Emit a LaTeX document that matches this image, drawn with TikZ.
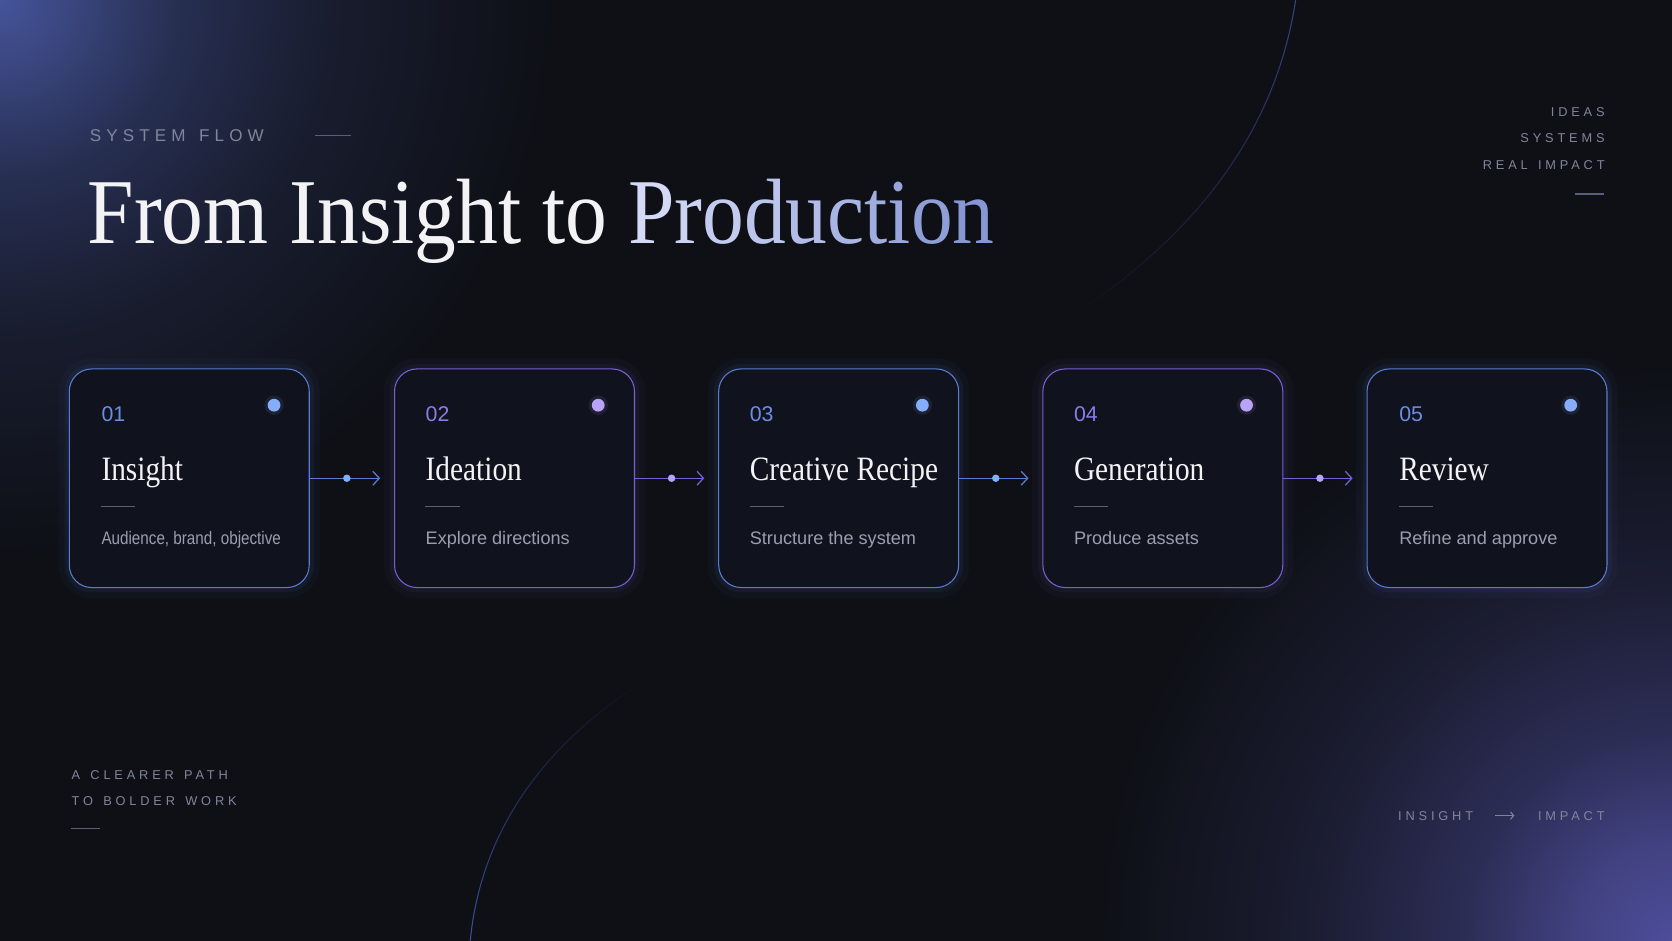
\documentclass[tikz,border=0pt]{standalone}
\usepackage{fontspec}
\usetikzlibrary{positioning,arrows.meta,fadings}

\newfontfamily\headfont[FakeStretch=0.9]{Liberation Serif}
\newfontfamily\cardfont[FakeStretch=0.86]{Liberation Serif}
\newfontfamily\labelfont{Liberation Sans}
\newfontfamily\condfont[FakeStretch=0.84]{Liberation Sans}
\newfontfamily\capsfont[LetterSpace=30]{Liberation Sans}

\definecolor{bgcol}{HTML}{0E1016}
\definecolor{cardfill}{HTML}{10121D}
\definecolor{glowtl}{HTML}{45549A}
\definecolor{glowbr}{HTML}{4D4D9A}
\definecolor{arcblue}{HTML}{4458B0}
\definecolor{blueline}{HTML}{5A7BD0}
\definecolor{purpleline}{HTML}{7462D2}
\definecolor{bluenum}{HTML}{6A8EE6}
\definecolor{purplenum}{HTML}{8C7CEA}
\definecolor{bluedot}{HTML}{86ADFA}
\definecolor{purpledot}{HTML}{B9A3F7}
\definecolor{titlewhite}{HTML}{F3F3F6}
\definecolor{prodA}{HTML}{D4DAF5}
\definecolor{prodB}{HTML}{8797D4}
\definecolor{descgray}{HTML}{9A9EB0}
\definecolor{capsgray}{HTML}{80859C}
\definecolor{rulegray}{HTML}{5A5F78}

\pgfdeclareradialshading{glowtopleft}{\pgfpoint{0bp}{0bp}}{color(0bp)=(glowtl); color(3bp)=(glowtl!80!bgcol);
	color(8bp)=(glowtl!45!bgcol); color(15bp)=(glowtl!18!bgcol); color(25bp)=(bgcol); color(50bp)=(bgcol)}
\pgfdeclareradialshading{glowbotright}{\pgfpoint{0bp}{0bp}}{color(0bp)=(glowbr); color(4bp)=(glowbr!82!bgcol);
	color(9bp)=(glowbr!48!bgcol); color(16bp)=(glowbr!20!bgcol); color(25bp)=(bgcol); color(50bp)=(bgcol)}

\tikzfading[name=arcfadedown, top color=transparent!25, bottom color=transparent!100]
\tikzfading[name=arcfadeup, top color=transparent!100, bottom color=transparent!10]

\newcommand\prodgrad{{\color{prodA}P}{\color{prodA!89!prodB}r}{\color{prodA!78!prodB}o}%
{\color{prodA!67!prodB}d}{\color{prodA!56!prodB}u}{\color{prodA!44!prodB}c}%
{\color{prodA!33!prodB}t}{\color{prodA!22!prodB}i}{\color{prodA!11!prodB}o}{\color{prodB}n}}
\newcommand\wsp{\hspace{0.8em}}

\tikzset{
	card/.style={rectangle, rounded corners=21pt, minimum width=225pt, minimum height=205pt,
		inner sep=0pt, fill=cardfill, draw=#1, line width=1pt,
		preaction={draw=#1, line width=20pt, draw opacity=0.04},
		preaction={draw=#1, line width=9pt, draw opacity=0.07}},
	stepnum/.style={anchor=base west, inner sep=0pt, font=\labelfont\fontsize{20}{20}\selectfont, text=#1},
	steptitle/.style={anchor=base west, inner sep=0pt, font=\cardfont\fontsize{32}{32}\selectfont, text=titlewhite},
	stepdesc/.style={anchor=base west, inner sep=0pt, font=\labelfont\fontsize{17}{17}\selectfont, text=descgray},
	stepdot/.style={circle, inner sep=0pt, minimum size=12pt, fill=#1,
		preaction={draw=#1, line width=6pt, draw opacity=0.1}},
	linkdot/.style={circle, inner sep=0pt, minimum size=7pt, fill=#1},
	flowline/.style={draw=#1, line width=1.2pt, -{Straight Barb[length=6pt,width=13pt]}, shorten >=13pt},
	capsnote/.style={inner sep=0pt, font=\capsfont\fontsize{12}{12}\selectfont, text=capsgray},
	shortrule/.style={draw=rulegray, line width=1.3pt},
	arcline/.style={draw=arcblue, line width=1pt}
}

\begin{document}
\begin{tikzpicture}[x=1pt,y=-1pt]
	%background
	\useasboundingbox (0,0) rectangle (1568,882);
	\clip (0,0) rectangle (1568,882);
	\fill[bgcol] (0,0) rectangle (1568,882);
	\shade[shading=glowtopleft] (0,0) circle (520pt);
	\shade[shading=glowbotright] (1568,882) circle (540pt);

	%arcs
	\draw[arcline, path fading=arcfadedown] (1215,0) .. controls (1195,130) and (1115,225) .. (1000,300);
	\draw[arcline, path fading=arcfadeup] (441,882) .. controls (452,770) and (520,690) .. (610,635);

	%header
	\node[capsnote, anchor=base west, font=\capsfont\fontsize{16}{16}\selectfont] (flow) at (84,133) {SYSTEM\wsp FLOW};
	\draw[shortrule] (295,127) -- (329,127);
	\node[anchor=base west, inner sep=0pt, font=\headfont\fontsize{87}{87}\selectfont, text=titlewhite] (title) at (82,228) {From Insight to \prodgrad};

	%side notes
	\node[capsnote, anchor=base east] (ideas) at (1505,109) {IDEAS};
	\node[capsnote, anchor=base east] (systems) at (1505,134) {SYSTEMS};
	\node[capsnote, anchor=base east] (real) at (1505,159) {REAL\wsp IMPACT};
	\draw[shortrule] (1477,182) -- (1504,182);

	\node[capsnote, anchor=base west] (path) at (67,731) {A\wsp CLEARER\wsp PATH};
	\node[capsnote, anchor=base west] (bolder) at (67,755) {TO\wsp BOLDER\wsp WORK};
	\draw[shortrule] (67,777) -- (94,777);

	\node[capsnote, anchor=base west] (ins) at (1311,769) {INSIGHT};
	\node[capsnote, anchor=base east] (imp) at (1505,769) {IMPACT};
	\draw[draw=capsgray, line width=1pt, -{Straight Barb[length=3pt,width=7pt]}, shorten <=20pt, shorten >=22pt] (ins) -- (imp);

	%cards
	\node[card=blueline] (c1) at (177.5,448.5) {};
	\node[card=purpleline] (c2) at (482.5,448.5) {};
	\node[card=blueline] (c3) at (786.5,448.5) {};
	\node[card=purpleline] (c4) at (1090.5,448.5) {};
	\node[card=blueline] (c5) at (1394.5,448.5) {};

	%card 1
	\node[stepnum=bluenum] (n1) at (95,395) {01};
	\node[stepdot=bluedot] (p1) at (257,380) {};
	\node[steptitle] (t1) at (95,451) {Insight};
	\draw[shortrule] (95,475) -- (127,475);
	\node[stepdesc, font=\condfont\fontsize{17}{17}\selectfont] (s1) at (95,511) {Audience, brand, objective};

	%card 2
	\node[stepnum=purplenum] (n2) at (399,395) {02};
	\node[stepdot=purpledot] (p2) at (561,380) {};
	\node[steptitle] (t2) at (399,451) {Ideation};
	\draw[shortrule] (399,475) -- (431,475);
	\node[stepdesc] (s2) at (399,511) {Explore directions};

	%card 3
	\node[stepnum=bluenum] (n3) at (703,395) {03};
	\node[stepdot=bluedot] (p3) at (865,380) {};
	\node[steptitle] (t3) at (703,451) {Creative Recipe};
	\draw[shortrule] (703,475) -- (735,475);
	\node[stepdesc] (s3) at (703,511) {Structure the system};

	%card 4
	\node[stepnum=purplenum] (n4) at (1007,395) {04};
	\node[stepdot=purpledot] (p4) at (1169,380) {};
	\node[steptitle] (t4) at (1007,451) {Generation};
	\draw[shortrule] (1007,475) -- (1039,475);
	\node[stepdesc] (s4) at (1007,511) {Produce assets};

	%card 5
	\node[stepnum=bluenum] (n5) at (1312,395) {05};
	\node[stepdot=bluedot] (p5) at (1473,380) {};
	\node[steptitle] (t5) at (1312,451) {Review};
	\draw[shortrule] (1312,475) -- (1344,475);
	\node[stepdesc] (s5) at (1312,511) {Refine and approve};

	%edges
	\draw[flowline=blueline] (c1.east) -- node[pos=0.44, linkdot=bluedot] (k1) {} (c2.west);
	\draw[flowline=purpleline] (c2.east) -- node[pos=0.44, linkdot=purpledot] (k2) {} (c3.west);
	\draw[flowline=blueline] (c3.east) -- node[pos=0.44, linkdot=bluedot] (k3) {} (c4.west);
	\draw[flowline=purpleline] (c4.east) -- node[pos=0.44, linkdot=purpledot] (k4) {} (c5.west);
\end{tikzpicture}
\end{document}
